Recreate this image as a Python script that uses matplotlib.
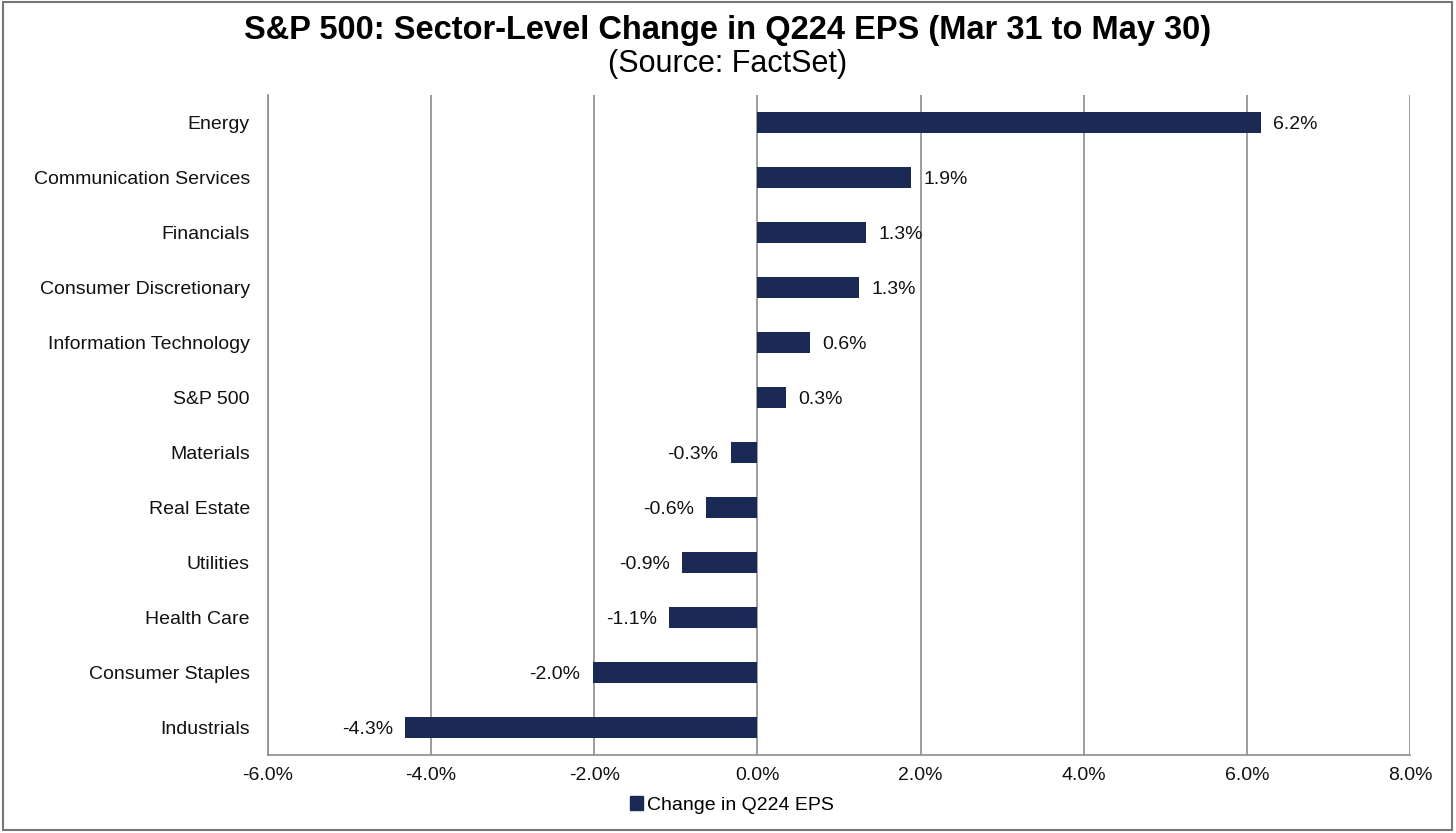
import numpy as np
import matplotlib.pyplot as plt
from matplotlib.patches import Rectangle
from matplotlib.ticker import FuncFormatter

plt.rcParams['font.family'] = ['Liberation Sans', 'DejaVu Sans']

sectors = ["Energy", "Communication Services", "Financials", "Consumer Discretionary",
           "Information Technology", "S&P 500", "Materials", "Real Estate",
           "Utilities", "Health Care", "Consumer Staples", "Industrials"]
changes = [6.17, 1.88, 1.33, 1.25, 0.64, 0.35, -0.33, -0.63, -0.92, -1.08, -2.02, -4.32]
labels = ["6.2%", "1.9%", "1.3%", "1.3%", "0.6%", "0.3%", "-0.3%", "-0.6%",
          "-0.9%", "-1.1%", "-2.0%", "-4.3%"]

bar_color = "#1b2a55"
grid_color = "#8c8c8c"
fs = 14

fig = plt.figure(figsize=(14.56, 8.33), dpi=100)
ax = fig.add_axes([268 / 1456, 1 - 755 / 833, (1410 - 268) / 1456, 660 / 833])

y = np.arange(len(sectors))
ax.barh(y, changes, height=0.37, color=bar_color, zorder=3)
ax.set_ylim(len(sectors) - 0.5, -0.5)
ax.set_xlim(-6, 8)
ax.set_xticks(np.arange(-6, 9, 2))
ax.xaxis.set_major_formatter(FuncFormatter(lambda v, p: f"{v:.1f}%"))
ax.set_yticks(y)
ax.set_yticklabels(sectors)
ax.tick_params(axis='both', length=0, labelsize=fs, colors="#111111")
ax.tick_params(axis='x', pad=9)
ax.tick_params(axis='y', pad=13)

ax.grid(axis='x', color=grid_color, linewidth=1.2, zorder=0)
for s in ['top', 'right']:
    ax.spines[s].set_visible(False)
for s in ['left', 'bottom']:
    ax.spines[s].set_color(grid_color)
    ax.spines[s].set_linewidth(1.2)

for yi, v, lab in zip(y, changes, labels):
    if v >= 0:
        ax.text(v + 0.15, yi + 0.03, lab, va='center', ha='left', fontsize=fs, color="#111111")
    else:
        ax.text(v - 0.15, yi + 0.03, lab, va='center', ha='right', fontsize=fs, color="#111111")

fig.text(0.5, 1 - 31 / 833, "S&P 500: Sector-Level Change in Q224 EPS (Mar 31 to May 30)",
         ha='center', va='center', fontsize=23.5, fontweight='bold')
fig.text(0.5, 1 - 64 / 833, "(Source: FactSet)", ha='center', va='center', fontsize=22)

handle = Rectangle((0, 0), 1, 1, color=bar_color)
fig.legend([handle], ["Change in Q224 EPS"], loc='center', bbox_to_anchor=(732 / 1456, 1 - 805 / 833),
           frameon=False, fontsize=fs, handlelength=0.7, handleheight=0.7, handletextpad=0.2)

fig.patches.append(Rectangle((0.002, 0.004), 0.995, 0.993, transform=fig.transFigure,
                             fill=False, edgecolor="#777777", linewidth=1.5))

fig.savefig("out.png", dpi=100)
